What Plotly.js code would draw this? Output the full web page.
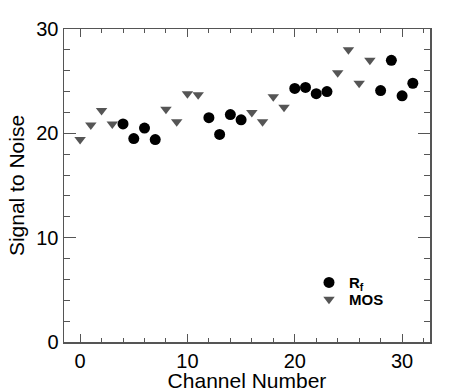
<!DOCTYPE html>
<html>
<head>
<meta charset="utf-8">
<script src="https://cdn.plot.ly/plotly-3.0.1.min.js"></script>
<style>html,body{margin:0;padding:0;background:#fff;}#chart{width:457px;height:392px;}</style>
</head>
<body>
<div id="chart"></div>
<script>
var channelsRf = [4, 5, 6, 7, 12, 13, 14, 15, 20, 21, 22, 23, 28, 29, 30, 31];
var snrRf = [20.9, 19.5, 20.5, 19.4, 21.5, 19.9, 21.8, 21.3, 24.3, 24.4, 23.8, 24.0, 24.1, 27.0, 23.6, 24.8];
var channelsMos = [0, 1, 2, 3, 8, 9, 10, 11, 16, 17, 18, 19, 24, 25, 26, 27];
var snrMos = [19.4, 20.8, 22.2, 20.9, 22.3, 21.1, 23.8, 23.7, 22.0, 21.1, 23.5, 22.5, 25.8, 28.0, 24.8, 27.0];
var xTitle = 'Channel Number';
var yTitle = 'Signal to Noise';
var nameRf = '<b>R<sub>f</sub></b>';
var nameMos = '<b>MOS</b>';

var FONT = 'Liberation Sans, Arial, Helvetica, sans-serif';
var axisColor = '#555555';

var traces = [
  {x: channelsRf, y: snrRf, name: nameRf, type: 'scatter', mode: 'markers', legend: 'legend',
   marker: {symbol: 'circle', size: 11, color: '#000000'}},
  {x: channelsMos, y: snrMos, name: nameMos, type: 'scatter', mode: 'markers', legend: 'legend2',
   marker: {symbol: 'triangle-down', size: 10, color: '#555555'}}
];

var legendFont = {family: FONT, size: 15, color: '#000000'};
var layout = {
  width: 457, height: 392,
  margin: {l: 64, r: 27, t: 28.5, b: 49.5},
  paper_bgcolor: '#ffffff', plot_bgcolor: '#ffffff',
  font: {family: FONT, size: 20, color: '#000000'},
  showlegend: true,
  legend: {x: 0.6694, y: 0.1895, xanchor: 'left', yanchor: 'middle',
           font: legendFont, bgcolor: 'rgba(0,0,0,0)', borderwidth: 0},
  legend2: {x: 0.6694, y: 0.1354, xanchor: 'left', yanchor: 'middle',
           font: legendFont, bgcolor: 'rgba(0,0,0,0)', borderwidth: 0},
  xaxis: {
    range: [-1.5, 32.6], showgrid: false, zeroline: false,
    showline: true, linecolor: axisColor, linewidth: 1.5, mirror: 'allticks',
    ticks: 'inside', ticklen: 8, tickcolor: axisColor, tickwidth: 1,
    dtick: 10, tick0: 0,
    minor: {dtick: 2, ticks: 'inside', ticklen: 4, tickcolor: axisColor, tickwidth: 1, showgrid: false},
    tickfont: {family: FONT, size: 20, color: '#000000'},
    title: {text: xTitle, font: {family: FONT, size: 21, color: '#000000'}, standoff: 3}
  },
  yaxis: {
    range: [0, 30], showgrid: false, zeroline: false,
    showline: true, linecolor: axisColor, linewidth: 1.5, mirror: 'allticks',
    ticks: 'inside', ticklen: 12, tickcolor: axisColor, tickwidth: 1,
    dtick: 10, tick0: 0,
    minor: {dtick: 2, ticks: 'inside', ticklen: 6, tickcolor: axisColor, tickwidth: 1, showgrid: false},
    tickfont: {family: FONT, size: 20, color: '#000000'},
    title: {text: yTitle, font: {family: FONT, size: 21, color: '#000000'}, standoff: 6}
  }
};

Plotly.newPlot('chart', traces, layout, {displayModeBar: false, staticPlot: true});
</script>
</body>
</html>
